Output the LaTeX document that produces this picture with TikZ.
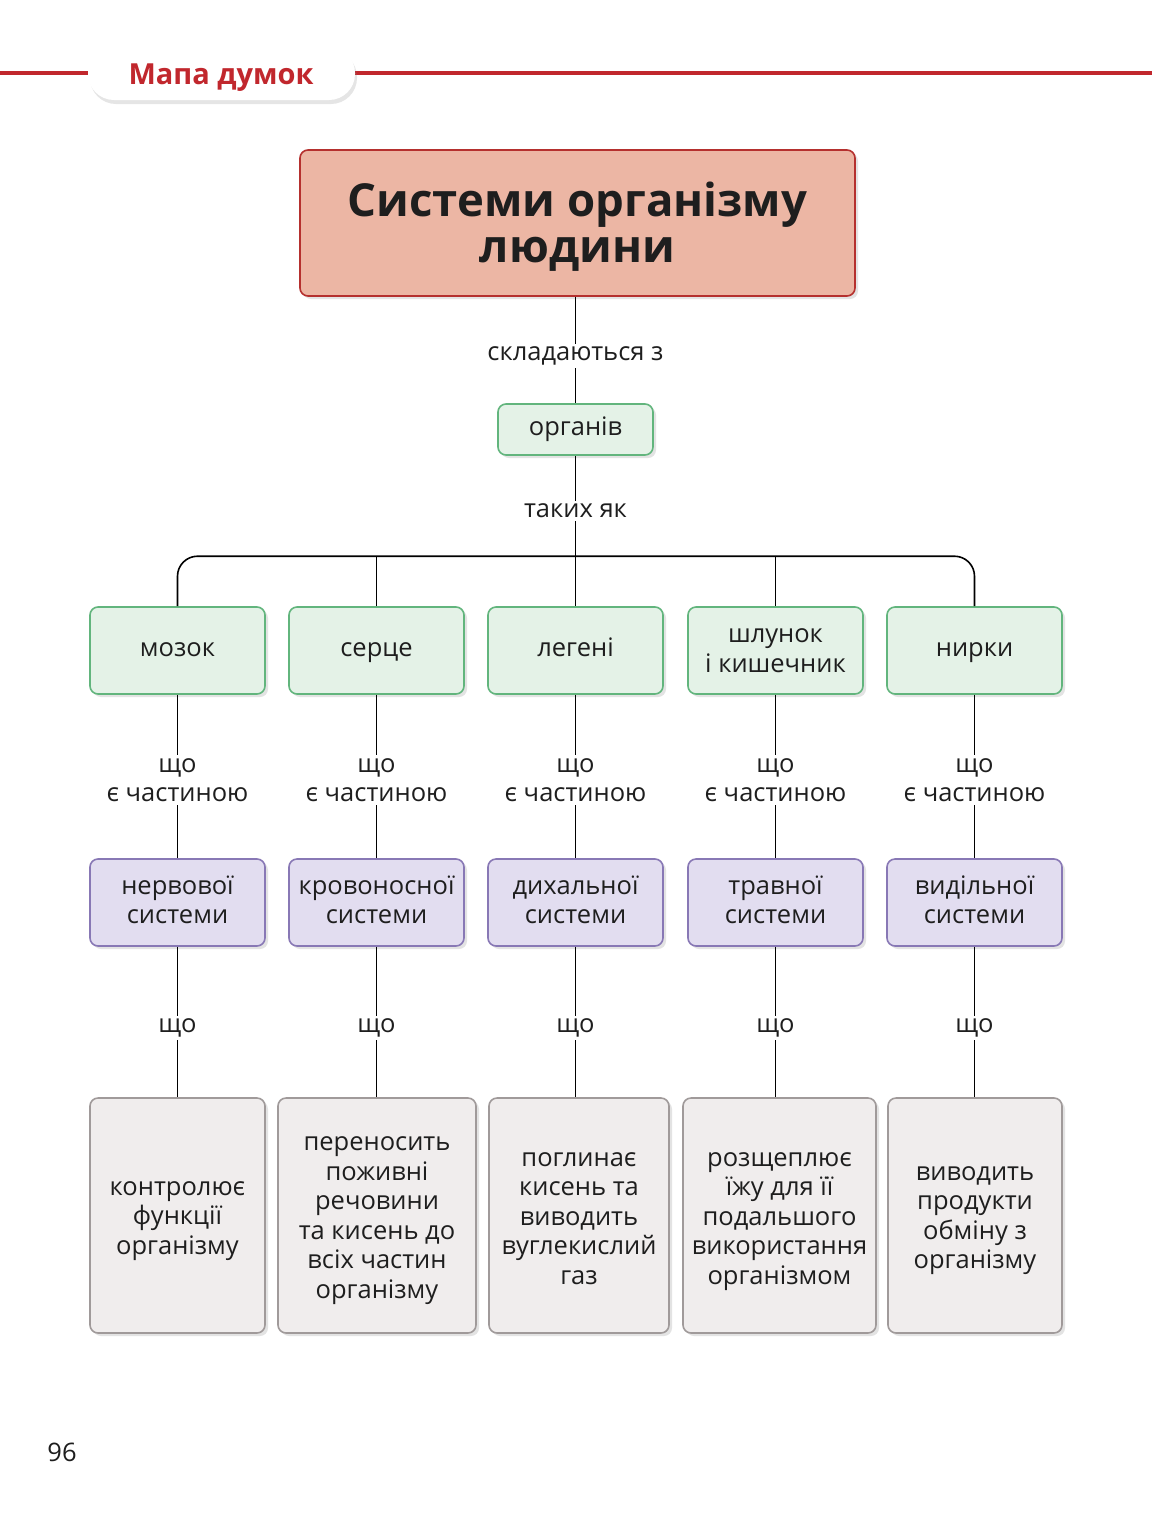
\documentclass[tikz,border=0pt]{standalone}
\usepackage{fontspec}
\setmainfont{Open Sans}
\usetikzlibrary{shadows}
\definecolor{redline}{HTML}{C1272D}
\definecolor{tfill}{HTML}{ECB6A4}
\definecolor{tline}{HTML}{B5302E}
\definecolor{gfill}{HTML}{E4F2E7}
\definecolor{gline}{HTML}{62B57D}
\definecolor{pfill}{HTML}{E2DDF0}
\definecolor{pline}{HTML}{8878B5}
\definecolor{kfill}{HTML}{F0EDED}
\definecolor{kline}{HTML}{A09A9A}
\definecolor{ink}{HTML}{1E1E1E}
\begin{document}
\begin{tikzpicture}[x=1pt,y=-1pt,
  topht/.store in=\mytopht, topht=20.65pt,
  txt/.style={font=\fontsize{25.5}{29.5}\selectfont, text=ink},
  box/.style={txt, draw, rounded corners=8pt, line width=1.6pt, align=center, inner sep=0pt,
    execute at begin node={\rule{0pt}{\mytopht}}, execute at end node=\strut,
    drop shadow={opacity=0.22, shadow xshift=3pt, shadow yshift=-3pt}},
  gbox/.style={box, fill=gfill, draw=gline, minimum width=175pt, minimum height=87pt},
  pbox/.style={box, fill=pfill, draw=pline, minimum width=175pt, minimum height=87pt, topht=51.5pt},
  kbox/.style={box, fill=kfill, draw=kline, minimum height=235pt},
  conn/.style={line width=1.6pt, black},
  lbl/.style={txt, fill=white, inner sep=3pt, align=center}
]
\useasboundingbox (0,0) rectangle (1152,1524);
\fill[white] (0,0) rectangle (1152,1524);

% header
\draw[redline, line width=4pt] (0,73) -- (1152,73);
\node[fill=white, rounded corners=26pt, minimum width=267pt, minimum height=53pt,
  drop shadow={opacity=0.2, shadow xshift=2pt, shadow yshift=-4pt}] (hdr) at (221.5,73.5) {};
\node[font=\fontsize{29}{34}\selectfont\bfseries, text=redline] (hdrt) at (221,78) {Мапа думок};

% title
\node[box, fill=tfill, draw=tline, minimum width=555pt, minimum height=146pt, topht=92.6pt,
  font=\fontsize{45.5}{46}\selectfont\bfseries] (title) at (577.5,223) {Системи організму\\людини};

\node[gbox, minimum width=155pt, minimum height=51pt] (org) at (575.5,429.5) {органів};

% level 1
\node[gbox] (b1) at (177.5,650.5) {мозок};
\node[gbox] (b2) at (376.5,650.5) {серце};
\node[gbox] (b3) at (575.5,650.5) {легені};
\node[gbox, topht=52.5pt] (b4) at (775.5,650.5) {шлунок\\і кишечник};
\node[gbox] (b5) at (974.5,650.5) {нирки};

% level 2
\node[pbox] (p1) at (177.5,902.5) {нервової\\системи};
\node[pbox] (p2) at (376.5,902.5) {кровоносної\\системи};
\node[pbox] (p3) at (575.5,902.5) {дихальної\\системи};
\node[pbox] (p4) at (775.5,902.5) {травної\\системи};
\node[pbox] (p5) at (974.5,902.5) {видільної\\системи};

% level 3
\node[kbox, minimum width=175pt, topht=86.5pt] (k1) at (177.5,1215.5) {контролює\\функції\\організму};
\node[kbox, minimum width=198pt, topht=174.5pt] (k2) at (377,1215.5) {переносить\\поживні\\речовини\\та кисень до\\всіх частин\\організму};
\node[kbox, minimum width=180pt, topht=146pt] (k3) at (579,1215.5) {поглинає\\кисень та\\виводить\\вуглекислий\\газ};
\node[kbox, minimum width=193pt, topht=146pt] (k4) at (779.5,1215.5) {розщеплює\\їжу для її\\подальшого\\використання\\організмом};
\node[kbox, minimum width=174pt, topht=115.5pt] (k5) at (975,1215.5) {виводить\\продукти\\обміну з\\організму};

% connectors
\draw[conn] (org.north |- title.south) -- (org.north);
\draw[conn] (org.south) -- (b3.north);
\draw[conn, rounded corners=20pt] (b1.north) -- ++(0,-50) -| (b5.north);
\draw[conn] (b2.north) -- ++(0,-50);
\draw[conn] (b4.north) -- ++(0,-50);
\foreach \i in {1,...,5}{
  \draw[conn] (b\i.south) -- (p\i.north);
  \draw[conn] (p\i.south) -- (p\i.south |- k\i.north);
}

% labels
\node[lbl] (l0) at (575.5,356) {складаються з};
\node[lbl] (l1) at (575.5,511) {таких як};
\foreach \i/\x in {1/177.5,2/376.5,3/575.5,4/775.5,5/974.5}{
  \node[lbl] (m\i) at (\x,780) {що\\є частиною};
  \node[lbl] (n\i) at (\x,1028) {що};
}

% page number
\node[txt] (pg) at (62,1452) {96};
\end{tikzpicture}
\end{document}
